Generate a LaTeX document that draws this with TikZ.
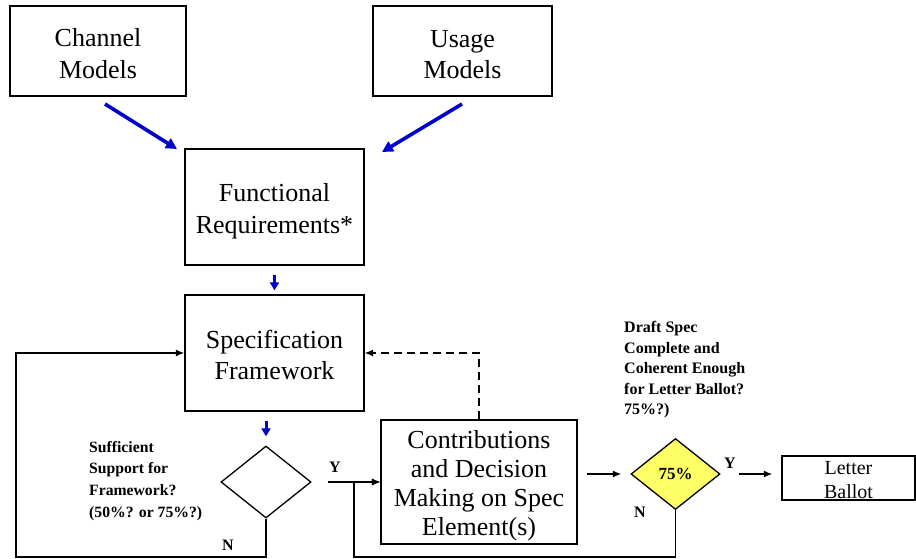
\documentclass[tikz,border=0pt]{standalone}
\usepackage{fontspec}
\setmainfont{Liberation Serif}
\usetikzlibrary{arrows.meta,shapes.geometric,calc}
\definecolor{arrowblue}{RGB}{0,0,204}
\definecolor{diayellow}{RGB}{255,255,102}
\newcommand{\toppad}[1]{\rule{0pt}{#1}}
\begin{document}
\begin{tikzpicture}[x=1pt,y=-1pt,
  box/.style={draw, line width=1.3pt, inner sep=0pt, align=center, font=\fontsize{26}{31.5}\selectfont},
  decision/.style={diamond, draw, line width=1.3pt, inner sep=0pt},
  conn/.style={draw, line width=1.3pt, -{Latex[length=8.5pt,width=7pt]}},
  dashconn/.style={draw, line width=1.3pt, dash pattern=on 8pt off 5pt, -{Latex[length=8.5pt,width=7pt]}},
  bigblue/.style={draw=arrowblue, line width=3.6pt, -{Triangle[length=11pt,width=11pt]}, arrowblue},
  smallblue/.style={draw=arrowblue, line width=3pt, -{Triangle[length=8pt,width=9pt]}, arrowblue},
  lbl/.style={inner sep=0pt, align=left, font=\fontsize{15.7}{21.6}\selectfont\bfseries},
  yn/.style={inner sep=0pt, font=\fontsize{16}{18}\selectfont\bfseries}
]
\useasboundingbox (0,0) rectangle (916,558);

% boxes
\node[box, minimum width=176pt, minimum height=90pt] (ch) at (98,51) {\toppad{23pt}Channel\\Models};
\node[box, minimum width=179pt, minimum height=90pt] (us) at (462.5,51) {\toppad{24pt}Usage\\Models};
\node[box, minimum width=179pt, minimum height=116pt] (fr) at (274.5,207) {\toppad{27pt}Functional\\Requirements*};
\node[box, minimum width=179pt, minimum height=116pt] (sp) at (274.5,353) {\toppad{22pt}Specification\\Framework};
\node[box, minimum width=196pt, minimum height=124pt, font=\fontsize{26}{29}\selectfont] (co) at (479,482) {\toppad{25.5pt}Contributions\\and Decision\\Making on Spec\\Element(s)};
\node[box, minimum width=133pt, minimum height=44pt, font=\fontsize{20}{24}\selectfont] (lb) at (848.5,478) {\toppad{18pt}Letter\\Ballot};

% decisions
\node[decision, minimum width=90pt, minimum height=72pt] (d1) at (266,482) {};
\node[decision, fill=diayellow, minimum width=89pt, minimum height=71pt, font=\fontsize{17}{19}\selectfont\bfseries] (d2) at (675.5,474) {75\%};

% labels
\node[lbl, anchor=north west] (t1) at (89,441) {Sufficient\\Support for\\Framework?\\(50\%? or 75\%?)};
\node[lbl, anchor=north west, font=\fontsize{16}{20.6}\selectfont\bfseries] (t2) at (624,321) {Draft Spec\\Complete and\\Coherent Enough\\for Letter Ballot?\\75\%?)};
\node[yn] (y1) at (335,467) {Y};
\node[yn] (n1) at (228,545) {N};
\node[yn] (y2) at (730,463) {Y};
\node[yn] (n2) at (640,512) {N};

% blue arrows
\coordinate (cha) at (105,104);
\coordinate (chb) at (177,149);
\coordinate (usa) at (462,104);
\coordinate (usb) at (382,152);
\draw[bigblue] (cha) -- (chb);
\draw[bigblue] (usa) -- (usb);
\draw[smallblue] ($(fr.south)+(0,9)$) -- ($(sp.north)+(0,-4)$);
\draw[smallblue] ($(sp.south)+(-8.5,9)$) -- ($(d1.north)+(0,-9)$);

% loops
\coordinate (loopL) at (16,557);
\draw[conn] (d1.south) |- (loopL) |- (sp.west);
\coordinate (ystart) at (328,482);
\draw[conn] (ystart) -- (co.west);
\coordinate (loopR) at (354,557);
\draw[conn] (d2.south) |- (loopR) |- (co.west);
\draw[dashconn] (co.north) |- (sp.east);

% flow to ballot
\draw[conn, shorten <=9pt, shorten >=9pt] (co.east |- d2.west) -- (d2.west);
\draw[conn, shorten <=18pt, shorten >=9pt] (d2.east) -- (d2.east -| lb.west);
\end{tikzpicture}
\end{document}
